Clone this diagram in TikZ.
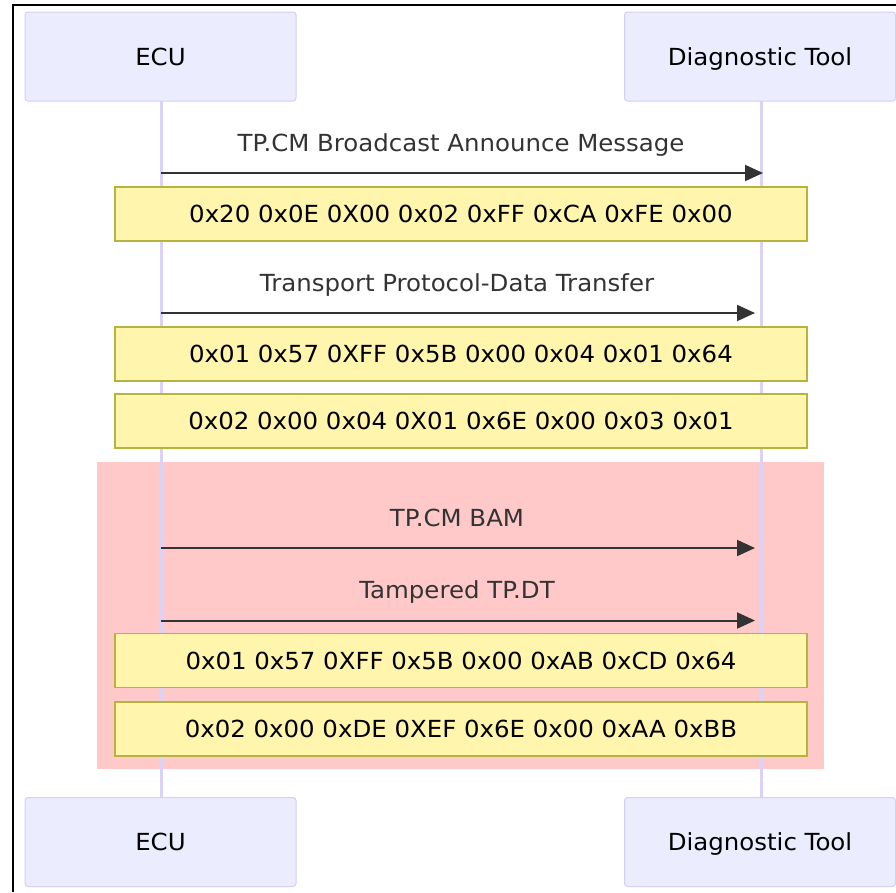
\documentclass[tikz,border=0pt]{standalone}
\usepackage{fontspec}
\setmainfont{DejaVu Sans}[FakeStretch=1.04]
\usetikzlibrary{arrows.meta}

\definecolor{actorfill}{HTML}{ECECFF}
\definecolor{actorline}{HTML}{D5CFF7}
\definecolor{lifeline}{HTML}{DAD3F7}
\definecolor{notefill}{HTML}{FFF5AD}
\definecolor{noteline}{HTML}{B4B43E}
\definecolor{critfill}{HTML}{FFC9C9}
\definecolor{msgline}{HTML}{333333}

\tikzset{
  base font/.style={font=\fontsize{23.5pt}{28pt}\selectfont},
  actor/.style={base font, draw=actorline, line width=1pt, fill=actorfill,
    rounded corners=3pt, minimum width=271pt, minimum height=89pt,
    inner sep=0pt, text height=17.1pt, text depth=0pt, text=black},
  note/.style={base font, draw=noteline, line width=1.5pt, fill=notefill,
    minimum width=692pt, minimum height=54pt, inner sep=0pt,
    text height=17.1pt, text depth=0pt, text=black},
  msgtext/.style={base font, anchor=base, text=msgline, inner sep=0pt},
  msg/.style={draw=msgline, line width=2pt,
    -{Triangle[length=18pt,width=16pt]}},
  life/.style={draw=lifeline, line width=3pt},
}

\begin{document}
\begin{tikzpicture}[x=1pt,y=-1pt]
  \useasboundingbox (0,0) rectangle (896,892);
  \fill[white] (0,0) rectangle (896,892);

  % frame
  \draw[black, line width=2pt] (13,892) -- (13,5) -- (896,5);

  % highlighted region
  \fill[critfill] (97,462) rectangle (824,769);

  % participants
  \node[actor] (ecuTop)  at (160.5,56.5) {ECU};
  \node[actor] (toolTop) at (760,56.5)   {Diagnostic Tool};
  \node[actor] (ecuBot)  at (160.5,842)  {ECU};
  \node[actor] (toolBot) at (760,842)    {Diagnostic Tool};

  % lifelines
  \draw[life] (161,101) -- (161,797);
  \draw[life] (761,101) -- (761,797);

  % messages
  \coordinate (m1s) at (161,173);   \coordinate (m1e) at (763,173);
  \coordinate (m2s) at (161,313);   \coordinate (m2e) at (755,313);
  \coordinate (m3s) at (161,548);   \coordinate (m3e) at (755,548);
  \coordinate (m4s) at (161,620.5); \coordinate (m4e) at (755,620.5);

  \node[msgtext] (t1) at (461,151) {TP.CM Broadcast Announce Message};
  \draw[msg] (m1s) -- (m1e);
  \node[msgtext] (t2) at (457,291) {Transport Protocol-Data Transfer};
  \draw[msg] (m2s) -- (m2e);
  \node[msgtext] (t3) at (457,526) {TP.CM BAM};
  \draw[msg] (m3s) -- (m3e);
  \node[msgtext] (t4) at (457,598.5) {Tampered TP.DT};
  \draw[msg] (m4s) -- (m4e);

  % notes
  \node[note] (n1) at (461,214)   {0x20 0x0E 0X00 0x02 0xFF 0xCA 0xFE 0x00};
  \node[note] (n2) at (461,354)   {0x01 0x57 0XFF 0x5B 0x00 0x04 0x01 0x64};
  \node[note] (n3) at (461,421)   {0x02 0x00 0x04 0X01 0x6E 0x00 0x03 0x01};
  \node[note] (n4) at (461,660.5) {0x01 0x57 0XFF 0x5B 0x00 0xAB 0xCD 0x64};
  \node[note] (n5) at (461,729)   {0x02 0x00 0xDE 0XEF 0x6E 0x00 0xAA 0xBB};
\end{tikzpicture}
\end{document}
